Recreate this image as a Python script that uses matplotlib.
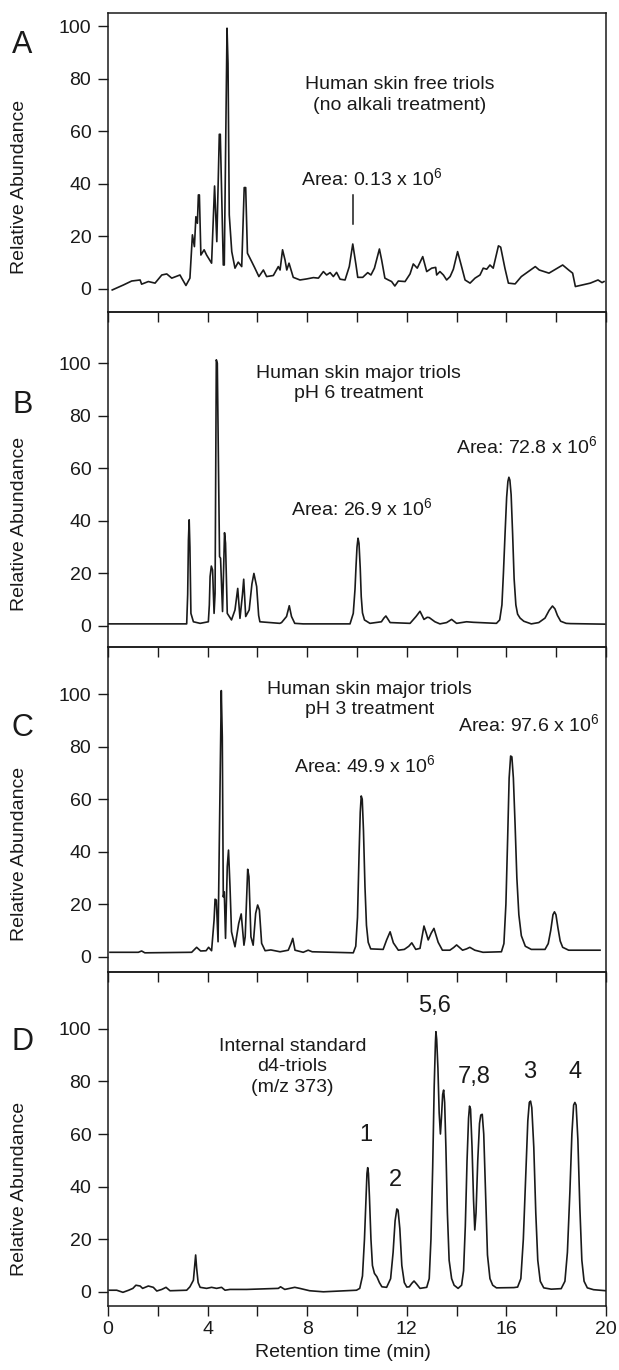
import numpy as np
import matplotlib
matplotlib.use('Agg')
import matplotlib.pyplot as plt
import matplotlib.transforms as mtransforms

plt.rcParams['font.family'] = ['Liberation Sans', 'DejaVu Sans']
plt.rcParams['mathtext.fontset'] = 'custom'
plt.rcParams['mathtext.rm'] = 'Liberation Sans'
plt.rcParams['mathtext.it'] = 'Liberation Sans:italic'

# --- chromatogram traces (time in min, relative abundance) ---
a_time = [0.17, 0.62, 0.95, 1.29, 1.35, 1.62, 1.89, 2.16, 2.36, 2.56, 2.89, 2.96, 3.13, 3.29,
          3.39, 3.47, 3.53, 3.59, 3.63, 3.67, 3.73, 3.86, 3.96, 4.16, 4.28, 4.37, 4.47, 4.51,
          4.63, 4.67, 4.78, 4.82, 4.87, 4.97, 5.10, 5.23, 5.37, 5.47, 5.53, 5.60, 5.77, 5.90,
          6.06, 6.24, 6.37, 6.64, 6.84, 6.91, 7.01, 7.11, 7.18, 7.27, 7.44, 7.71, 7.98, 8.25,
          8.45, 8.65, 8.78, 8.92, 9.05, 9.18, 9.32, 9.52, 9.69, 9.83, 9.96, 10.03, 10.23,
          10.43, 10.56, 10.70, 10.90, 10.99, 11.12, 11.26, 11.39, 11.52, 11.66, 11.93, 12.13,
          12.26, 12.42, 12.64, 12.80, 13.00, 13.16, 13.20, 13.33, 13.47, 13.60, 13.74, 13.87,
          14.04, 14.20, 14.34, 14.54, 14.74, 14.94, 15.07, 15.21, 15.34, 15.47, 15.68, 15.77,
          15.94, 16.08, 16.35, 16.60, 17.16, 17.32, 17.71, 18.26, 18.50, 18.66, 18.77, 19.05,
          19.37, 19.68, 19.84, 19.92]
a_abund = [-0.4, 1.5, 3.0, 3.4, 1.8, 2.8, 2.2, 5.3, 5.7, 4.1, 5.3, 4.1, 1.3, 4.1,
           20.6, 16.1, 27.5, 25.0, 35.8, 35.8, 12.9, 14.9, 12.9, 9.8, 39.2, 18.0, 58.9, 58.9,
           9.1, 9.1, 99.3, 85.9, 28.2, 14.2, 7.9, 10.2, 8.5, 38.6, 38.6, 13.6, 10.4, 7.9,
           4.7, 7.2, 4.7, 5.1, 8.5, 7.2, 14.9, 11.0, 7.2, 9.8, 4.4, 3.4, 3.8, 4.3,
           4.1, 6.6, 5.3, 6.2, 4.7, 6.3, 3.7, 3.4, 8.5, 17.1, 9.1, 4.4, 4.4,
           6.2, 5.3, 7.9, 15.2, 11.0, 4.1, 3.4, 2.8, 1.1, 3.0, 2.8, 5.7,
           9.5, 7.9, 12.3, 6.6, 7.9, 8.2, 5.3, 6.6, 5.3, 3.4, 4.7, 7.5,
           14.2, 8.5, 3.4, 2.2, 4.1, 5.3, 7.9, 7.5, 9.1, 7.9, 16.4, 15.9,
           7.9, 2.2, 1.9, 4.7, 8.5, 7.2, 6.0, 9.1, 7.2, 6.0, 0.9, 1.5,
           2.2, 3.4, 2.4, 2.8]

b_time = [0.0, 3.16, 3.20, 3.23, 3.26, 3.29, 3.33, 3.43, 3.70, 4.03, 4.07, 4.10, 4.15, 4.20,
          4.26, 4.30, 4.35, 4.39, 4.44, 4.48, 4.52, 4.60, 4.68, 4.72, 4.79, 4.96, 5.10, 5.21,
          5.30, 5.40, 5.45, 5.53, 5.67, 5.78, 5.86, 5.97, 6.05, 6.10, 6.90, 6.97, 7.17, 7.28,
          7.37, 7.50, 7.84, 9.72, 9.85, 9.92, 9.96, 10.00, 10.04, 10.08, 10.13, 10.17, 10.22,
          10.30, 10.52, 10.98, 11.08, 11.16, 11.25, 11.33, 12.13, 12.37, 12.53, 12.69, 12.82,
          12.90, 13.13, 13.33, 13.60, 13.80, 14.00, 14.20, 14.40, 14.67, 15.60, 15.73, 15.82,
          15.88, 15.95, 16.01, 16.06, 16.10, 16.14, 16.19, 16.25, 16.31, 16.38, 16.45, 16.55,
          16.70, 17.00, 17.30, 17.55, 17.72, 17.85, 17.95, 18.05, 18.18, 18.40, 18.58, 19.95]
b_abund = [0.8, 0.8, 12.0, 32.7, 40.4, 30.0, 4.8, 1.6, 1.0, 1.6, 8.0, 18.8, 22.8, 21.3,
           4.8, 12.4, 101.3, 100.0, 58.1, 26.4, 25.8, 5.5, 35.5, 31.5, 4.8, 2.3, 6.1, 14.3,
           2.9, 12.0, 17.8, 3.6, 6.1, 16.0, 20.0, 15.0, 4.0, 1.6, 1.0, 1.3, 3.6, 7.7,
           3.6, 1.0, 0.8, 0.8, 4.8, 14.0, 22.6, 30.0, 33.4, 31.5, 22.0, 11.2, 5.0,
           2.3, 1.0, 1.6, 3.0, 3.8, 2.5, 1.3, 1.0, 3.6, 5.6, 2.5, 3.3,
           3.2, 1.6, 0.8, 1.3, 2.5, 1.0, 1.3, 1.6, 1.4, 1.0, 2.3, 8.0,
           20.0, 36.0, 49.0, 55.0, 56.6, 55.5, 50.0, 35.0, 18.0, 8.0, 4.5, 3.0,
           1.8, 0.8, 1.3, 3.0, 6.0, 7.6, 6.5, 4.0, 1.8, 1.0, 0.9, 0.7]

c_time = [0.08, 1.22, 1.35, 1.48, 3.36, 3.56, 3.72, 3.94, 4.04, 4.16, 4.26, 4.30, 4.35, 4.42,
          4.47, 4.55, 4.59, 4.63, 4.67, 4.72, 4.79, 4.84, 4.90, 4.96, 5.10, 5.25, 5.35, 5.46,
          5.51, 5.61, 5.66, 5.74, 5.83, 5.93, 6.01, 6.08, 6.17, 6.31, 6.54, 6.91, 7.24, 7.35,
          7.42, 7.51, 7.84, 8.04, 8.20, 9.85, 9.95, 10.02, 10.08, 10.13, 10.17, 10.21, 10.26,
          10.32, 10.38, 10.45, 10.55, 11.05, 11.19, 11.33, 11.46, 11.66, 11.90, 12.08, 12.20,
          12.36, 12.53, 12.62, 12.69, 12.78, 12.86, 12.98, 13.09, 13.18, 13.26, 13.43, 13.73,
          13.88, 14.00, 14.12, 14.24, 14.40, 14.53, 14.64, 14.73, 15.06, 15.80, 15.90, 15.98,
          16.05, 16.11, 16.17, 16.22, 16.28, 16.35, 16.42, 16.50, 16.60, 16.76, 17.00, 17.55,
          17.68, 17.78, 17.87, 17.93, 17.99, 18.07, 18.16, 18.26, 18.50, 19.76]
c_abund = [1.7, 1.7, 2.2, 1.5, 1.7, 3.6, 2.2, 2.3, 3.6, 2.3, 14.0, 21.9, 21.6, 5.7,
           43.2, 101.3, 83.7, 22.8, 24.7, 7.0, 34.3, 40.6, 26.6, 9.5, 3.8, 12.7, 16.3, 4.4,
           7.6, 33.3, 30.5, 7.6, 4.4, 16.5, 19.7, 17.8, 5.1, 2.3, 2.6, 1.9, 2.5, 5.0,
           7.0, 2.5, 1.7, 2.5, 1.9, 1.5, 4.0, 15.0, 38.0, 55.0, 61.2, 60.0, 48.0,
           26.7, 12.0, 5.5, 3.0, 2.8, 6.4, 9.5, 5.3, 2.5, 2.8, 4.0, 5.3,
           2.8, 3.2, 8.0, 11.7, 9.0, 6.4, 9.0, 10.8, 8.0, 5.5, 2.5, 2.5,
           3.5, 4.5, 3.5, 2.5, 3.0, 3.6, 3.0, 2.5, 1.7, 1.9, 5.0, 20.0,
           45.0, 68.0, 76.4, 76.1, 68.0, 50.0, 30.0, 16.0, 8.0, 4.0, 2.8, 2.8,
           5.0, 10.0, 16.0, 17.1, 16.0, 11.0, 6.0, 3.6, 2.5, 2.5]

d_time = [0.05, 0.35, 0.60, 0.83, 1.00, 1.12, 1.29, 1.39, 1.62, 1.82, 1.96, 2.16, 2.33, 2.49,
          3.16, 3.29, 3.43, 3.48, 3.52, 3.56, 3.62, 3.70, 3.96, 4.16, 4.36, 4.56, 4.70, 4.90,
          5.57, 6.84, 6.93, 7.10, 7.30, 7.50, 7.70, 8.10, 8.65, 9.98, 10.11, 10.22, 10.30,
          10.36, 10.40, 10.43, 10.46, 10.50, 10.56, 10.62, 10.70, 10.80, 10.90, 11.00, 11.19,
          11.35, 11.45, 11.53, 11.60, 11.65, 11.72, 11.80, 11.90, 12.00, 12.10, 12.20, 12.29,
          12.40, 12.53, 12.80, 12.90, 12.97, 13.04, 13.10, 13.15, 13.17, 13.20, 13.25, 13.30,
          13.35, 13.39, 13.44, 13.48, 13.52, 13.57, 13.63, 13.70, 13.80, 13.90, 14.06, 14.20,
          14.28, 14.35, 14.42, 14.48, 14.52, 14.56, 14.62, 14.68, 14.73, 14.78, 14.85, 14.92,
          14.97, 15.03, 15.09, 15.16, 15.24, 15.34, 15.45, 15.60, 16.30, 16.45, 16.58, 16.68,
          16.78, 16.86, 16.92, 16.97, 17.02, 17.10, 17.18, 17.26, 17.36, 17.50, 17.80, 18.20,
          18.35, 18.45, 18.55, 18.63, 18.70, 18.75, 18.80, 18.87, 18.95, 19.03, 19.12, 19.25,
          19.50, 20.00]
d_abund = [0.6, 0.6, -0.2, 0.6, 1.3, 2.5, 2.2, 1.3, 2.2, 1.7, 0.3, 0.9, 1.7, 0.4,
           0.6, 1.9, 4.4, 10.0, 14.0, 9.0, 3.5, 1.7, 1.3, 1.7, 1.3, 1.7, 0.6, 0.9,
           0.9, 1.3, 1.9, 0.9, 1.3, 1.7, 1.3, 0.4, 0.0, 0.6, 1.3, 6.0, 20.0,
           35.0, 45.0, 47.2, 45.0, 36.0, 20.0, 10.0, 7.0, 5.7, 3.5, 1.9, 1.7,
           5.0, 15.0, 27.0, 31.5, 31.0, 24.0, 10.0, 3.5, 1.8, 1.9, 3.2, 4.1,
           2.9, 1.3, 1.7, 5.0, 20.0, 47.5, 78.0, 95.0, 98.9, 96.0, 85.0, 68.0,
           60.0, 66.0, 75.0, 76.7, 72.0, 55.0, 30.0, 12.0, 5.0, 2.5, 1.3, 2.5,
           8.0, 25.0, 50.0, 66.0, 70.6, 69.5, 55.0, 35.0, 23.5, 30.0, 50.0, 64.0,
           67.2, 67.5, 60.0, 38.0, 14.0, 5.0, 2.5, 1.5, 1.6, 1.8, 5.0, 20.0,
           45.0, 65.0, 72.0, 72.5, 70.0, 55.0, 30.0, 12.0, 4.0, 1.5, 1.0, 1.2,
           4.0, 15.0, 38.0, 60.0, 71.0, 72.0, 71.0, 58.0, 32.0, 12.0, 4.0, 1.5,
           0.8, 0.4]

panel_letters = ['A', 'B', 'C', 'D']
panel_ylims = [(-8.8, 105.1), (-8.0, 119.5), (-5.8, 117.9), (-5.4, 121.6)]
panel_letter_y = [93, 84, 87, 95]

d_peak_labels = ['1', '2', '5,6', '7,8', '3', '4']
d_peak_x = [10.35, 11.56, 13.1, 14.7, 16.95, 18.75]
d_peak_y = [59.7, 42.6, 108.7, 81.7, 83.6, 83.6]

ink = '#1a1a1a'

fig = plt.figure(figsize=(6.19, 13.70), dpi=100)
gs = fig.add_gridspec(4, 1, height_ratios=[299, 335, 325, 334], hspace=0,
                      left=108 / 619, right=606 / 619, top=1 - 13 / 1370, bottom=1 - 1306 / 1370)
axs = [fig.add_subplot(gs[i]) for i in range(4)]

traces = [(a_time, a_abund), (b_time, b_abund), (c_time, c_abund), (d_time, d_abund)]

for i, ax in enumerate(axs):
    t, y = traces[i]
    ax.plot(t, y, color=ink, lw=1.2, solid_joinstyle='round')
    ax.set_xlim(0, 20)
    ax.set_ylim(*panel_ylims[i])
    ax.set_yticks([0, 20, 40, 60, 80, 100])
    ax.set_xticks(np.arange(0, 21, 2))
    if i == 3:
        ax.set_xticklabels(['0', '', '4', '', '8', '', '12', '', '16', '', '20'])
    else:
        ax.set_xticklabels([])
    ax.tick_params(axis='both', direction='out', length=7, width=1.0, labelsize=14,
                   color=ink, labelcolor=ink)
    ax.tick_params(axis='y', pad=5)
    ax.tick_params(axis='x', pad=4)
    ax.tick_params(top=False, right=False)
    for s in ax.spines.values():
        s.set_linewidth(1.1)
        s.set_color(ink)
    ax.patch.set_alpha(0)
    ax.set_zorder(10 - i)
    tr = mtransforms.blended_transform_factory(ax.transAxes, ax.transData)
    ax.text(-0.178, 39, 'Relative Abundance', transform=tr, rotation=90,
            ha='center', va='center', fontsize=14, color=ink)
    ax.text(-0.172, panel_letter_y[i], panel_letters[i], transform=tr,
            ha='center', va='center', fontsize=22, color=ink)

# panel A annotations
axs[0].text(11.7, 74, 'Human skin free triols\n(no alkali treatment)', ha='center', va='center',
            fontsize=14, linespacing=1.3, color=ink)
axs[0].text(10.6, 42, r'Area: 0.13 x 10$^{6}$', ha='center', va='center', fontsize=14, color=ink)
axs[0].plot([9.83, 9.83], [24.6, 35.8], color=ink, lw=1.1)

# panel B annotations
axs[1].text(10.05, 92.3, 'Human skin major triols\npH 6 treatment', ha='center', va='center',
            fontsize=14, linespacing=1.25, color=ink)
axs[1].text(10.2, 45, r'Area: 26.9 x 10$^{6}$', ha='center', va='center', fontsize=14, color=ink)
axs[1].text(16.8, 68.5, r'Area: 72.8 x 10$^{6}$', ha='center', va='center', fontsize=14, color=ink)

# panel C annotations
axs[2].text(10.5, 98, 'Human skin major triols\npH 3 treatment', ha='center', va='center',
            fontsize=14, linespacing=1.25, color=ink)
axs[2].text(10.3, 73, r'Area: 49.9 x 10$^{6}$', ha='center', va='center', fontsize=14, color=ink)
axs[2].text(16.9, 88.5, r'Area: 97.6 x 10$^{6}$', ha='center', va='center', fontsize=14, color=ink)

# panel D annotations
axs[3].text(7.4, 85.5, 'Internal standard\nd4-triols\n(m/z 373)', ha='center', va='center',
            fontsize=14, linespacing=1.3, color=ink)
for lab, px, py in zip(d_peak_labels, d_peak_x, d_peak_y):
    axs[3].text(px, py, lab, ha='center', va='center', fontsize=17, color=ink)

trd = mtransforms.blended_transform_factory(axs[3].transData, axs[3].transAxes)
axs[3].text(9.45, -0.138, 'Retention time (min)', transform=trd, ha='center', va='center',
            fontsize=14, color=ink)

fig.savefig('out.png', dpi=100)
